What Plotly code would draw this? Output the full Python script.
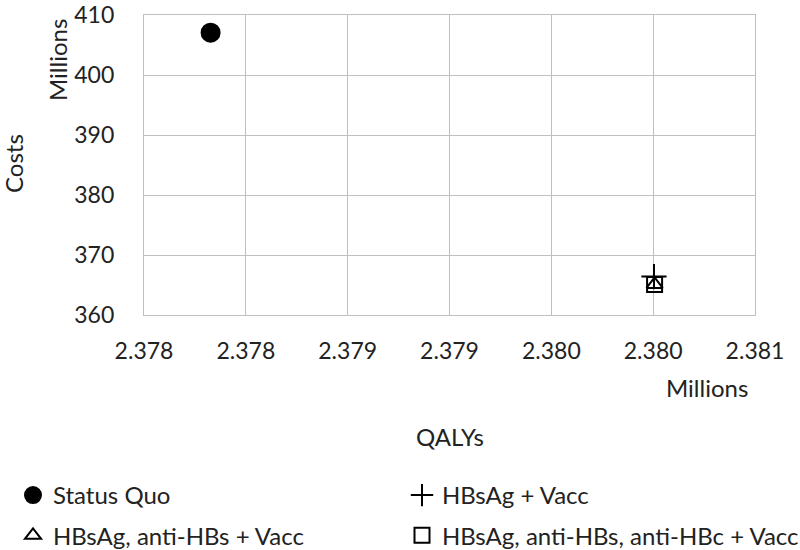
import plotly.graph_objects as go

strategies = ["Status Quo", "HBsAg + Vacc", "HBsAg, anti-HBs + Vacc", "HBsAg, anti-HBs, anti-HBc + Vacc"]
qalys_millions = [2.377827, 2.380004, 2.380007, 2.380007]
costs_millions = [407.06, 366.4, 365.1, 365.1]
symbols = ["circle", "cross-thin-open", "triangle-up-open", "square-open"]
sizes = [18, 18, 14, 15]
legend_ids = ["legend", "legend2", "legend", "legend2"]

x_tickvals = [2.3775, 2.3780, 2.3785, 2.3790, 2.3795, 2.3800, 2.3805]
x_ticktext = ["2.378", "2.378", "2.379", "2.379", "2.380", "2.380", "2.381"]
y_tickvals = [360, 370, 380, 390, 400, 410]

FONT = "Lato"
TXT = "#222222"
W, H = 800, 550
ML, MR, MT, MB = 144, 45, 15, 235

fig = go.Figure()
for name, x, y, s, sz, lg in zip(strategies, qalys_millions, costs_millions, symbols, sizes, legend_ids):
    fig.add_trace(go.Scatter(
        x=[x], y=[y], mode="markers", name=name, legend=lg, legendgroup=name,
        marker=dict(symbol=s, size=sz, color="black",
                    line=dict(color="black", width=2)),
    ))

grid = "#bfbfbf"
axis_common = dict(showgrid=True, gridcolor=grid, gridwidth=1.3,
                   showline=True, linecolor=grid, linewidth=1.3, mirror=True,
                   zeroline=False, ticks="", ticklen=0, ticklabeloverflow="allow",
                   tickfont=dict(family=FONT, size=23, color=TXT))

legend_common = dict(orientation="v", xref="container", yref="container",
                     xanchor="left", yanchor="top", traceorder="grouped",
                     tracegroupgap=6, bgcolor="rgba(0,0,0,0)",
                     font=dict(family=FONT, size=24, color=TXT))

def px_to_paper(px, py):
    pw, ph = W - ML - MR, H - MT - MB
    return (px - ML) / pw, 1 - (py - MT) / ph

annotations = []
for text, px, py, ang in [("Costs", 14, 164, -90), ("Millions", 57, 60, -90),
                          ("Millions", 707, 387, 0), ("QALYs", 450, 436, 0)]:
    ax, ay = px_to_paper(px, py)
    annotations.append(dict(text=text, x=ax, y=ay, xref="paper", yref="paper",
                            showarrow=False, textangle=ang,
                            xanchor="center", yanchor="middle",
                            font=dict(family=FONT, size=24, color=TXT)))

fig.update_layout(
    width=W, height=H,
    paper_bgcolor="white", plot_bgcolor="white",
    margin=dict(l=ML, r=MR, t=MT, b=MB, autoexpand=False),
    font=dict(family=FONT, size=23, color=TXT),
    xaxis=dict(range=[2.3775, 2.3805], tickvals=x_tickvals, ticktext=x_ticktext,
               ticklabelstandoff=15, **axis_common),
    yaxis=dict(range=[360, 410], tickvals=y_tickvals,
               ticklabelstandoff=24, **axis_common),
    showlegend=True,
    legend=dict(x=13 / W, y=1 - 473 / H, **legend_common),
    legend2=dict(x=402 / W, y=1 - 473 / H, **legend_common),
    annotations=annotations,
)

# remove the browser's default page margin so the 800x550 figure fills the window
fig.write_html("out.html",
               config={"displayModeBar": False},
               post_script="document.body.style.margin='0';document.body.style.overflow='hidden';")
